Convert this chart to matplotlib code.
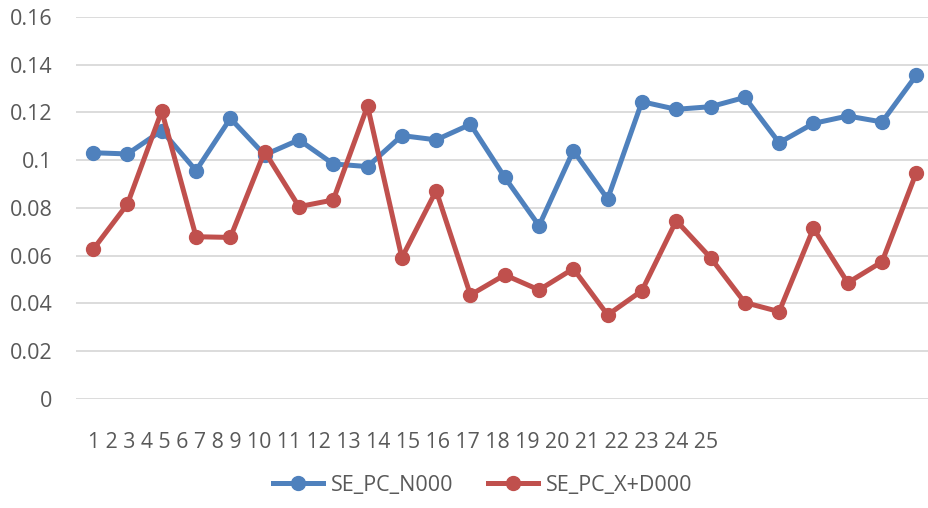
import matplotlib.pyplot as plt

plt.rcParams['font.family'] = ['Open Sans', 'DejaVu Sans']

# category labels shown under the axis (Excel squeezed them into one run)
cat_labels = [str(i) for i in range(1, 26)]

se_pc_n000 = [0.1031, 0.1026, 0.1124, 0.0956, 0.1175, 0.1022, 0.1085, 0.0984, 0.0973,
              0.1103, 0.1085, 0.1150, 0.0928, 0.0725, 0.1040, 0.0837, 0.1245, 0.1213,
              0.1224, 0.1263, 0.1073, 0.1154, 0.1185, 0.1160, 0.1356]
se_pc_xd000 = [0.0626, 0.0816, 0.1206, 0.0679, 0.0676, 0.1036, 0.0805, 0.0833, 0.1227,
               0.0591, 0.0872, 0.0435, 0.0519, 0.0456, 0.0545, 0.0351, 0.0453, 0.0746,
               0.0591, 0.0403, 0.0365, 0.0714, 0.0486, 0.0574, 0.0948]

yticks = [0, 0.02, 0.04, 0.06, 0.08, 0.1, 0.12, 0.14, 0.16]
ytick_labels = ['0', '0.02', '0.04', '0.06', '0.08', '0.1', '0.12', '0.14', '0.16']

blue = '#4F81BD'
red = '#C0504D'
text_col = '#595959'

W, H = 929, 508
fig = plt.figure(figsize=(W / 100, H / 100), dpi=100)
ax = fig.add_axes([76 / W, (H - 398.7) / H, (W - 76) / W, (398.7 - 17) / H])

x = list(range(1, len(se_pc_n000) + 1))
ax.plot(x, se_pc_n000, color=blue, lw=3.6, marker='o', ms=10, label='SE_PC_N000',
        solid_joinstyle='round', clip_on=False, zorder=3)
ax.plot(x, se_pc_xd000, color=red, lw=3.6, marker='o', ms=10, label='SE_PC_X+D000',
        solid_joinstyle='round', clip_on=False, zorder=3)

# category spacing ~34.3 px, first point half a slot in
ax.set_xlim(0.5, 0.5 + (W - 76) / 34.3)
ax.set_ylim(0, 0.16)
ax.set_yticks(yticks)
ax.set_yticklabels(ytick_labels)
ax.set_xticks([])
ax.tick_params(axis='y', length=0, pad=17, labelsize=15.5, labelcolor=text_col)
ax.grid(axis='y', color='#D9D9D9', lw=1.3)
ax.set_axisbelow(True)
for s in ax.spines.values():
    s.set_visible(False)

fig.text(88 / W, (H - 443) / H, ' '.join(cat_labels), ha='left', va='center',
         fontsize=15.3, color=text_col)

fig.legend(loc='center', bbox_to_anchor=(483 / W, (H - 485) / H), ncol=2, frameon=False,
           fontsize=15.5, labelcolor=text_col, handlelength=2.3, columnspacing=1.6,
           handletextpad=0.4)

fig.savefig('out.png', dpi=100)
